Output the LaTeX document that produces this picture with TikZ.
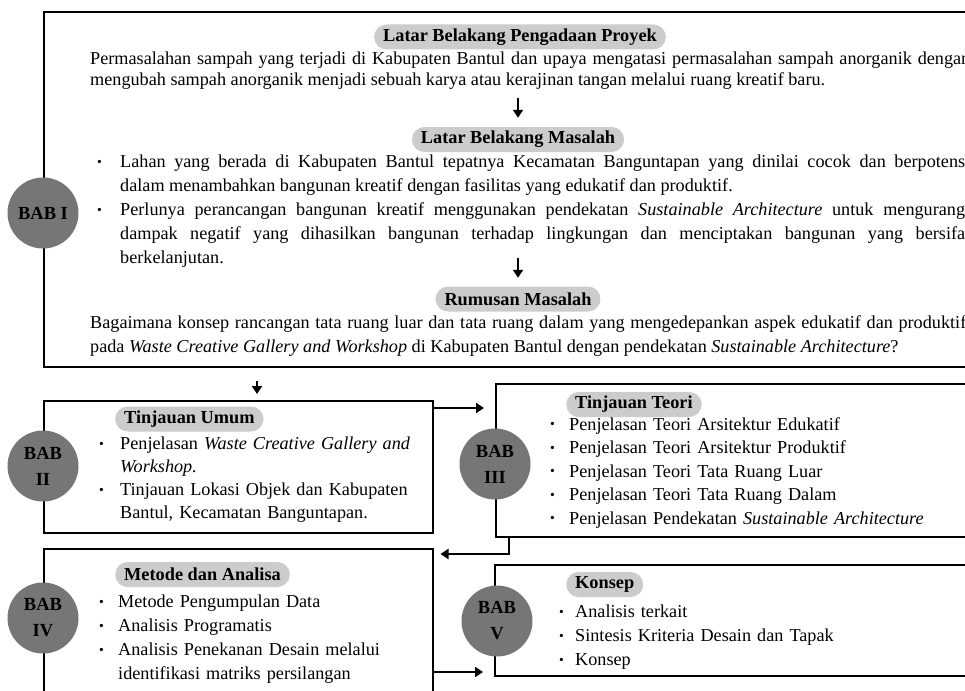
\documentclass[tikz,border=0pt]{standalone}
\usepackage{fontspec}
\usepackage{graphicx}
\setmainfont{Liberation Serif}
\usetikzlibrary{arrows.meta}
\setlength{\parindent}{0pt}
\definecolor{babgray}{RGB}{118,118,118}
\definecolor{pillgray}{RGB}{204,204,204}
\newcommand{\butir}[1]{\hangindent=#1\hangafter=1\noindent\makebox[#1][l]{\raisebox{1.2pt}{\scalebox{0.75}{\textbullet}}}}
\tikzset{
    kotak/.style={draw, line width=2pt, inner sep=0pt, outer sep=0pt, anchor=north west},
    bab/.style={circle, fill=babgray, minimum size=71pt, inner sep=0pt, align=center, font=\fontsize{18.5}{26}\selectfont\bfseries},
    judul/.style={fill=pillgray, rounded corners=12.5pt, minimum height=25pt, inner xsep=9pt, inner ysep=0pt, font=\fontsize{18.3}{20}\selectfont\bfseries},
    isi/.style={anchor=north west, inner sep=0pt, font=\fontsize{18.2}{23.5}\selectfont},
    panah/.style={line width=2pt, -{Triangle[width=10pt,length=8pt]}}
}
\begin{document}
\begin{tikzpicture}[x=1pt,y=-1pt]
        \clip (0,0) rectangle (965,690);
        \fill [white] (0,0) rectangle (965,690);
        \node [kotak, minimum width=931pt, minimum height=355pt] (bab1box) at (44,12) {};
        \node [kotak, minimum width=389pt, minimum height=132pt] (bab2box) at (44,401) {};
        \node [kotak, minimum width=479pt, minimum height=153pt] (bab3box) at (496,384) {};
        \node [kotak, minimum width=389pt, minimum height=151pt] (bab4box) at (44,549) {};
        \node [kotak, minimum width=480pt, minimum height=111pt] (bab5box) at (495,565) {};
        \node [bab] (bab1) at (43,213) {BAB I};
        \node [bab] (bab2) at (43,466) {BAB\\II};
        \node [bab] (bab3) at (495,464) {BAB\\III};
        \node [bab] (bab4) at (43,618) {BAB\\IV};
        \node [bab] (bab5) at (497,621) {BAB\\V};
        \node [judul] (head1) at (520,37) {Latar Belakang Pengadaan Proyek};
        \node [judul] (head2) at (518,139.5) {Latar Belakang Masalah};
        \node [judul] (head3) at (518,299) {Rumusan Masalah};
        \node [judul, anchor=west] (head4) at (115,419) {Tinjauan Umum};
        \node [judul, anchor=west] (head5) at (566,404.5) {Tinjauan Teori};
        \node [judul, anchor=west] (head6) at (115,574.5) {Metode dan Analisa};
        \node [judul, anchor=west] (head7) at (566,584.5) {Konsep};
        \node [isi, text width=880pt, align=justify, font=\fontsize{18.2}{20.5}\selectfont] (para1) at (90,52) {Permasalahan sampah yang terjadi di Kabupaten Bantul dan upaya mengatasi permasalahan sampah anorganik dengan\linebreak mengubah sampah anorganik menjadi sebuah karya atau kerajinan tangan melalui ruang kreatif baru.\par};
        \node [isi, text width=873pt, align=justify, font=\fontsize{18.2}{24}\selectfont] (list1) at (97,155) {\butir{23pt}Lahan yang berada di Kabupaten Bantul tepatnya Kecamatan Banguntapan yang dinilai cocok dan berpotensi\linebreak dalam menambahkan bangunan kreatif dengan fasilitas yang edukatif dan produktif.\par\butir{23pt}Perlunya perancangan bangunan kreatif menggunakan pendekatan \emph{Sustainable Architecture} untuk mengurangi\linebreak dampak negatif yang dihasilkan bangunan terhadap lingkungan dan menciptakan bangunan yang bersifat\linebreak berkelanjutan.\par};
        \node [isi, text width=876pt, align=justify, font=\fontsize{18.2}{24}\selectfont] (para3) at (90,315) {Bagaimana konsep rancangan tata ruang luar dan tata ruang dalam yang mengedepankan aspek edukatif dan produktif\linebreak pada \emph{Waste Creative Gallery and Workshop} di Kabupaten Bantul dengan pendekatan \emph{Sustainable Architecture}?\par};
        \node [isi, text width=320pt, align=left, font=\fontsize{18.2}{23}\selectfont] (list2) at (99,437) {\butir{21pt}Penjelasan \emph{Waste Creative Gallery and}\newline\emph{Workshop.}\par\butir{21pt}Tinjauan Lokasi Objek dan Kabupaten\newline Bantul, Kecamatan Banguntapan.\par};
        \node [isi, text width=400pt, align=left] (list3) at (550,417) {\butir{19pt}Penjelasan Teori Arsitektur Edukatif\par\butir{19pt}Penjelasan Teori Arsitektur Produktif\par\butir{19pt}Penjelasan Teori Tata Ruang Luar\par\butir{19pt}Penjelasan Teori Tata Ruang Dalam\par\butir{19pt}Penjelasan Pendekatan \emph{Sustainable Architecture}\par};
        \node [isi, text width=320pt, align=left, font=\fontsize{18.2}{24}\selectfont] (list4) at (99,595) {\butir{19pt}Metode Pengumpulan Data\par\butir{19pt}Analisis Programatis\par\butir{19pt}Analisis Penekanan Desain melalui\newline identifikasi matriks persilangan\par};
        \node [isi, text width=400pt, align=left, font=\fontsize{18.2}{24}\selectfont] (list5) at (559,605) {\butir{16pt}Analisis terkait\par\butir{16pt}Sintesis Kriteria Desain dan Tapak\par\butir{16pt}Konsep\par};
        \draw [panah, shorten >=9pt] ([yshift=29pt]head2.north) -- (head2.north);
        \draw [panah, shorten >=8.5pt] ([yshift=28.5pt]head3.north) -- (head3.north);
        \draw [panah, shorten <=14pt, shorten >=7pt] ([xshift=213pt]bab1box.south west) -- ([xshift=213pt]bab2box.north west);
        \draw [panah, shorten >=12pt] ([yshift=-7pt]bab2box.north east) -- ([yshift=-7pt]bab2box.north east -| bab3box.west);
        \draw [panah, shorten >=7.5pt] ([xshift=13pt]bab3box.south west) |- ([yshift=-5pt]bab4box.north east);
        \draw [panah, shorten >=12pt] ([yshift=4pt]bab5box.south west -| bab4box.east) -- ([yshift=4pt]bab5box.south west);
    \end{tikzpicture}
\end{document}
